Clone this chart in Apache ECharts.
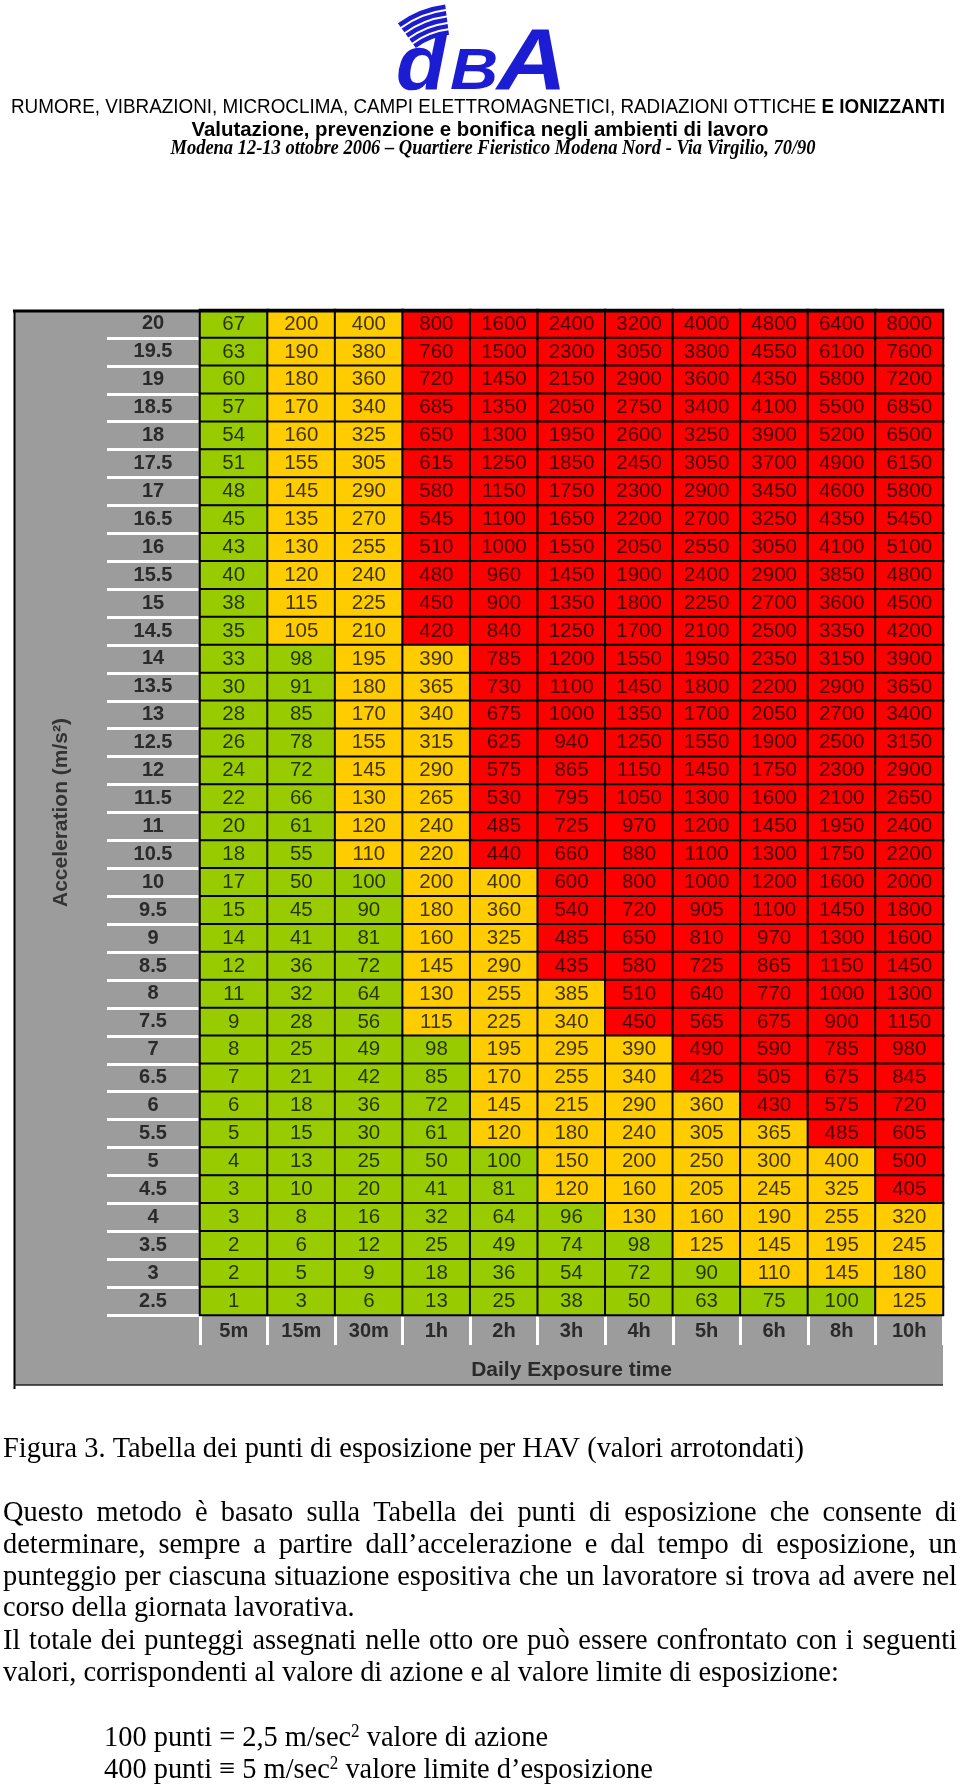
<!DOCTYPE html>
<html>
<head>
<meta charset="utf-8">
<script src="https://cdn.jsdelivr.net/npm/echarts@6/dist/echarts.min.js"></script>
<style>
  html, body { margin: 0; padding: 0; background: #fff; }
  #chart { width: 960px; height: 1786px; }
</style>
</head>
<body>
<div id="chart"></div>
<script>
(function () {
  'use strict';

  var ACCELERATION = ['20', '19.5', '19', '18.5', '18', '17.5', '17', '16.5', '16', '15.5', '15', '14.5',
    '14', '13.5', '13', '12.5', '12', '11.5', '11', '10.5', '10', '9.5', '9', '8.5', '8', '7.5', '7',
    '6.5', '6', '5.5', '5', '4.5', '4', '3.5', '3', '2.5'];
  var EXPOSURE_TIME = ['5m', '15m', '30m', '1h', '2h', '3h', '4h', '5h', '6h', '8h', '10h'];
  // one row per acceleration, same order as ACCELERATION
  var POINTS = [
    [67, 200, 400, 800, 1600, 2400, 3200, 4000, 4800, 6400, 8000],
    [63, 190, 380, 760, 1500, 2300, 3050, 3800, 4550, 6100, 7600],
    [60, 180, 360, 720, 1450, 2150, 2900, 3600, 4350, 5800, 7200],
    [57, 170, 340, 685, 1350, 2050, 2750, 3400, 4100, 5500, 6850],
    [54, 160, 325, 650, 1300, 1950, 2600, 3250, 3900, 5200, 6500],
    [51, 155, 305, 615, 1250, 1850, 2450, 3050, 3700, 4900, 6150],
    [48, 145, 290, 580, 1150, 1750, 2300, 2900, 3450, 4600, 5800],
    [45, 135, 270, 545, 1100, 1650, 2200, 2700, 3250, 4350, 5450],
    [43, 130, 255, 510, 1000, 1550, 2050, 2550, 3050, 4100, 5100],
    [40, 120, 240, 480, 960, 1450, 1900, 2400, 2900, 3850, 4800],
    [38, 115, 225, 450, 900, 1350, 1800, 2250, 2700, 3600, 4500],
    [35, 105, 210, 420, 840, 1250, 1700, 2100, 2500, 3350, 4200],
    [33, 98, 195, 390, 785, 1200, 1550, 1950, 2350, 3150, 3900],
    [30, 91, 180, 365, 730, 1100, 1450, 1800, 2200, 2900, 3650],
    [28, 85, 170, 340, 675, 1000, 1350, 1700, 2050, 2700, 3400],
    [26, 78, 155, 315, 625, 940, 1250, 1550, 1900, 2500, 3150],
    [24, 72, 145, 290, 575, 865, 1150, 1450, 1750, 2300, 2900],
    [22, 66, 130, 265, 530, 795, 1050, 1300, 1600, 2100, 2650],
    [20, 61, 120, 240, 485, 725, 970, 1200, 1450, 1950, 2400],
    [18, 55, 110, 220, 440, 660, 880, 1100, 1300, 1750, 2200],
    [17, 50, 100, 200, 400, 600, 800, 1000, 1200, 1600, 2000],
    [15, 45, 90, 180, 360, 540, 720, 905, 1100, 1450, 1800],
    [14, 41, 81, 160, 325, 485, 650, 810, 970, 1300, 1600],
    [12, 36, 72, 145, 290, 435, 580, 725, 865, 1150, 1450],
    [11, 32, 64, 130, 255, 385, 510, 640, 770, 1000, 1300],
    [9, 28, 56, 115, 225, 340, 450, 565, 675, 900, 1150],
    [8, 25, 49, 98, 195, 295, 390, 490, 590, 785, 980],
    [7, 21, 42, 85, 170, 255, 340, 425, 505, 675, 845],
    [6, 18, 36, 72, 145, 215, 290, 360, 430, 575, 720],
    [5, 15, 30, 61, 120, 180, 240, 305, 365, 485, 605],
    [4, 13, 25, 50, 100, 150, 200, 250, 300, 400, 500],
    [3, 10, 20, 41, 81, 120, 160, 205, 245, 325, 405],
    [3, 8, 16, 32, 64, 96, 130, 160, 190, 255, 320],
    [2, 6, 12, 25, 49, 74, 98, 125, 145, 195, 245],
    [2, 5, 9, 18, 36, 54, 72, 90, 110, 145, 180],
    [1, 3, 6, 13, 25, 38, 50, 63, 75, 100, 125]
  ];
  var ACTION_POINTS = 100;
  var LIMIT_POINTS = 400;

  var HEADER_1A = 'RUMORE, VIBRAZIONI, MICROCLIMA, CAMPI ELETTROMAGNETICI, RADIAZIONI OTTICHE ';
  var HEADER_1B = 'E IONIZZANTI';
  var HEADER_2 = 'Valutazione, prevenzione e bonifica negli ambienti di lavoro';
  var HEADER_3 = 'Modena 12-13 ottobre 2006 \u2013 Quartiere Fieristico Modena Nord - Via Virgilio, 70/90';
  var CAPTION = 'Figura 3. Tabella dei punti di esposizione per HAV (valori arrotondati)';
  var PARA_1 = [
    'Questo metodo è basato sulla Tabella dei punti di esposizione che consente di',
    'determinare, sempre a partire dall\u2019accelerazione e dal tempo di esposizione, un',
    'punteggio per ciascuna situazione espositiva che un lavoratore si trova ad avere nel'
  ];
  var PARA_1_END = 'corso della giornata lavorativa.';
  var PARA_2 = ['Il totale dei punteggi assegnati nelle otto ore può essere confrontato con i seguenti'];
  var PARA_2_END = 'valori, corrispondenti al valore di azione e al valore limite di esposizione:';
  var LIMIT_LINES = [
    ['100 punti = 2,5 m/sec', ' valore di azione'],
    ['400 punti \u2261 5 m/sec', ' valore limite d\u2019esposizione']
  ];

  var GREEN = '#99cc00', YELLOW = '#ffcc00', RED = '#ff0000';
  var SANS = '"Liberation Sans", Arial, sans-serif';
  var SERIF = '"Liberation Serif", "Times New Roman", serif';
  var BLUE = '#1c1cd2';

  var cells = [];
  POINTS.forEach(function (row, i) {
    row.forEach(function (v, j) { cells.push([j, i, v]); });
  });

  // text helpers
  var mctx = document.createElement('canvas').getContext('2d');
  function measure(str, font) { mctx.font = font; return mctx.measureText(str).width; }

  function textEl(str, x, y, font, sx, align, extra) {
    var st = {
      text: str, font: font, fill: '#000',
      align: align || 'left', textAlign: align || 'left',
      verticalAlign: 'middle', textVerticalAlign: 'middle'
    };
    if (extra) Object.keys(extra).forEach(function (k) { st[k] = extra[k]; });
    return { type: 'text', x: x, y: y, scaleX: sx || 1, z: 20, style: st };
  }

  var BODY_FONT = '30px ' + SERIF;
  var bodyScale = 801 / measure(CAPTION, BODY_FONT);

  function justified(str, y, left, right) {
    var words = str.split(' ');
    var ws = words.map(function (w) { return measure(w, BODY_FONT) * bodyScale; });
    var total = ws.reduce(function (a, b) { return a + b; }, 0);
    var gap = (right - left - total) / (words.length - 1);
    var x = left, out = [];
    words.forEach(function (w, i) {
      out.push(textEl(w, x, y, BODY_FONT, bodyScale));
      x += ws[i] + gap;
    });
    return out;
  }

  var graphics = [];
  // gray panel behind the table
  graphics.push({ type: 'rect', z: -1, shape: { x: 14, y: 310, width: 929, height: 1075 }, style: { fill: '#9c9c9c' } });
  graphics.push({ type: 'line', z: 20, shape: { x1: 13, y1: 311, x2: 944, y2: 311 }, style: { stroke: '#000', lineWidth: 3 } });
  graphics.push({ type: 'line', z: 20, shape: { x1: 14.5, y1: 310, x2: 14.5, y2: 1389 }, style: { stroke: '#000', lineWidth: 2 } });
  graphics.push({ type: 'line', z: 20, shape: { x1: 14, y1: 1385, x2: 943, y2: 1385 }, style: { stroke: '#222', lineWidth: 1.5 } });

  // logo
  [74, 80.5, 87, 93.5, 100].forEach(function (r) {
    graphics.push({
      type: 'arc', z: 20,
      shape: { cx: 458, cy: 106, r: r, startAngle: Math.PI * 1.30, endAngle: Math.PI * 1.46, clockwise: true },
      style: { stroke: BLUE, lineWidth: 4.5, fill: null }
    });
  });
  graphics.push(textEl('d', 396, 68, 'italic bold 78px ' + SANS, 1.05, 'left', { fill: BLUE }));
  graphics.push(textEl('B', 450, 73, 'italic bold 58px ' + SANS, 1.15, 'left', { fill: BLUE }));
  graphics.push(textEl('A', 497, 65, 'italic bold 88px ' + SANS, 1.1, 'left', { fill: BLUE }));

  // header lines
  var h1Font = '20px ' + SANS, h1Bold = 'bold 20px ' + SANS;
  var h1Scale = 934 / (measure(HEADER_1A, h1Font) + measure(HEADER_1B, h1Bold));
  graphics.push(textEl('{a|' + HEADER_1A + '}{b|' + HEADER_1B + '}', 11, 107, h1Font, h1Scale, 'left', {
    rich: { a: { font: h1Font, fill: '#000' }, b: { font: h1Bold, fill: '#000' } }
  }));
  var h2Font = 'bold 21px ' + SANS;
  graphics.push(textEl(HEADER_2, 480, 130, h2Font, 577 / measure(HEADER_2, h2Font), 'center'));
  var h3Font = 'italic bold 21px ' + SERIF;
  graphics.push(textEl(HEADER_3, 493, 149, h3Font, 645 / measure(HEADER_3, h3Font), 'center'));

  // caption and body text
  graphics.push(textEl(CAPTION, 3, 1449, BODY_FONT, bodyScale));
  var ys1 = [1513, 1545, 1577];
  PARA_1.forEach(function (l, i) { graphics = graphics.concat(justified(l, ys1[i], 3, 957)); });
  graphics.push(textEl(PARA_1_END, 3, 1608, BODY_FONT, bodyScale));
  graphics = graphics.concat(justified(PARA_2[0], 1641, 3, 957));
  graphics.push(textEl(PARA_2_END, 3, 1673, BODY_FONT, bodyScale));
  var supFont = '18px ' + SERIF;
  LIMIT_LINES.forEach(function (parts, i) {
    graphics.push(textEl('{t|' + parts[0] + '}{s|2}{t|' + parts[1] + '}', 104, 1738 + i * 32, BODY_FONT, bodyScale, 'left', {
      rich: {
        t: { font: BODY_FONT, fill: '#000' },
        s: { font: supFont, fill: '#000', verticalAlign: 'top' }
      }
    }));
  });

  var chart = echarts.init(document.getElementById('chart'), null, { renderer: 'canvas' });
  chart.setOption({
    backgroundColor: '#fff',
    animation: false,
    grid: { left: 200, top: 310, width: 743, height: 1005, containLabel: false },
    xAxis: {
      type: 'category',
      data: EXPOSURE_TIME,
      position: 'bottom',
      axisLine: { show: false },
      axisTick: { show: true, interval: 0, length: 30, lineStyle: { color: '#fff', width: 3 } },
      axisLabel: { interval: 0, margin: 6, fontSize: 20, fontWeight: 'bold', fontFamily: SANS, color: '#2a2a2a' },
      splitLine: { show: false },
      name: 'Daily Exposure time',
      nameLocation: 'middle',
      nameGap: 45,
      nameTextStyle: { fontSize: 21, fontWeight: 'bold', fontFamily: SANS, color: '#2a2a2a' }
    },
    yAxis: {
      type: 'category',
      data: ACCELERATION,
      inverse: true,
      axisLine: { show: true, lineStyle: { color: '#fff', width: 3 } },
      axisTick: { show: true, interval: 0, length: 93, lineStyle: { color: '#fff', width: 3 } },
      axisLabel: { interval: 0, margin: 47, align: 'center', fontSize: 20, fontWeight: 'bold', fontFamily: SANS, color: '#2a2a2a' },
      splitLine: { show: false },
      name: 'Acceleration (m/s\u00b2)',
      nameLocation: 'middle',
      nameGap: 128,
      nameTextStyle: { fontSize: 21, fontWeight: 'bold', fontFamily: SANS, color: '#333' }
    },
    visualMap: {
      type: 'piecewise',
      show: false,
      dimension: 2,
      pieces: [
        { lte: ACTION_POINTS, color: GREEN },
        { gt: ACTION_POINTS, lte: LIMIT_POINTS, color: YELLOW },
        { gt: LIMIT_POINTS, color: RED }
      ]
    },
    series: [{
      type: 'heatmap',
      data: cells,
      itemStyle: { borderColor: '#000', borderWidth: 2 },
      label: {
        show: true,
        formatter: function (p) { return String(p.value[2]); },
        fontSize: 20.5,
        fontFamily: SANS,
        color: 'rgba(0,0,0,0.75)'
      },
      emphasis: { disabled: true }
    }],
    graphic: { elements: graphics }
  });
})();
</script>
</body>
</html>
